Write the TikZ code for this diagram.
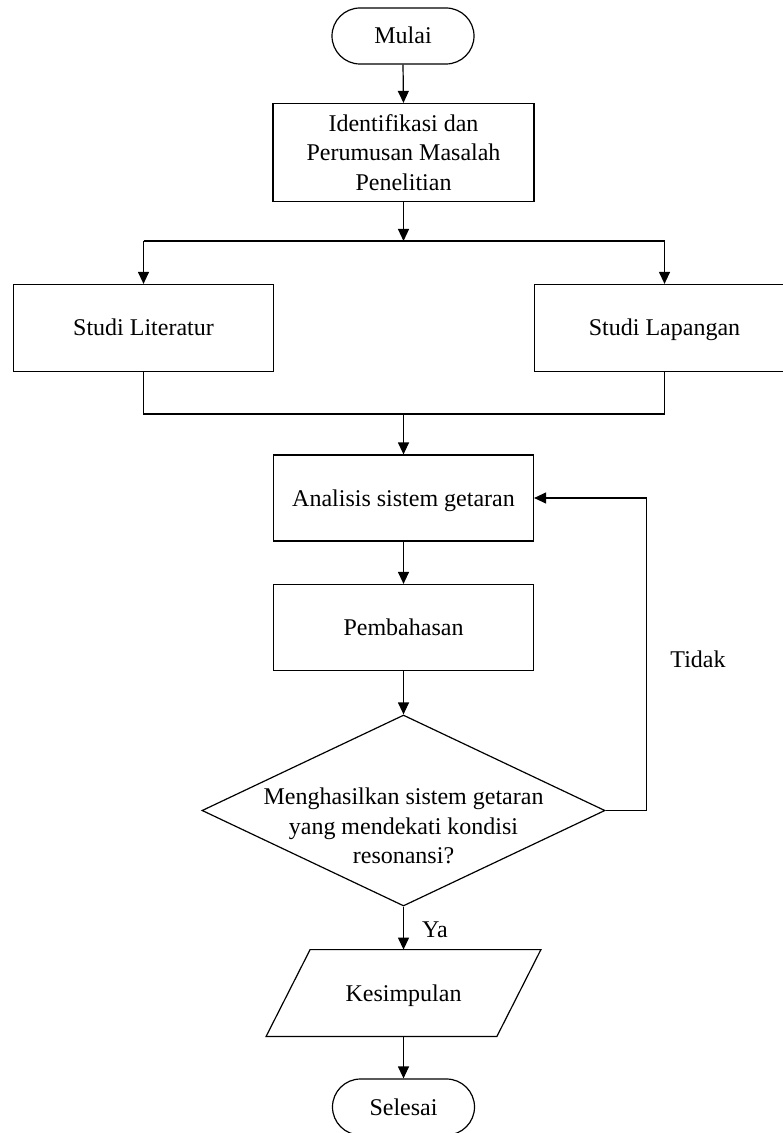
\documentclass[tikz,border=0pt]{standalone}
\usepackage{fontspec}
\setmainfont{Liberation Serif}
\usetikzlibrary{arrows.meta,shapes.geometric,calc}
\tikzset{
  every node/.style={font=\fontsize{12}{14.6}\selectfont},
  line/.style={line width=0.6pt},
  arr/.style={line width=0.6pt,-{Triangle[length=6pt,width=5.5pt]}},
  oneline/.style={text height=9.5pt,text depth=1.5pt},
  procbox/.style={draw,line width=0.6pt,rectangle,inner sep=0pt,align=center},
  termbox/.style={draw,line width=0.6pt,rectangle,rounded corners=14pt,inner sep=0pt,minimum width=71pt,minimum height=28pt,oneline},
  decbox/.style={draw,line width=0.6pt,diamond,inner sep=0pt,minimum width=201.5pt,minimum height=95.5pt},
  lbl/.style={inner sep=0pt}
}
\begin{document}
\begin{tikzpicture}[x=0.5pt,y=-0.5pt]
\useasboundingbox (0,0) rectangle (782,1133);
\node[termbox] (start) at (403,36) {Mulai};
\node[procbox,minimum width=130.5pt,minimum height=49pt] (idn) at (403.5,152.5) {Identifikasi dan\\Perumusan Masalah\\Penelitian};
\node[procbox,oneline,minimum width=130pt,minimum height=43.5pt] (lit) at (143.5,328) {Studi Literatur};
\node[procbox,oneline,minimum width=130pt,minimum height=43.5pt] (lap) at (664.5,328) {Studi Lapangan};
\node[procbox,oneline,minimum width=130pt,minimum height=43pt] (ana) at (403.5,498) {Analisis sistem getaran};
\node[procbox,oneline,minimum width=130pt,minimum height=43pt] (pem) at (403.5,627.5) {Pembahasan};
\node[decbox] (dec) at (403.5,810.5) {};
\node[lbl,align=center] (dectext) at (403.5,826) {Menghasilkan sistem getaran\\yang mendekati kondisi\\resonansi?};
\node[rectangle,oneline,inner sep=0pt,minimum width=115pt,minimum height=43pt] (kes) at (403.5,993) {Kesimpulan};
\draw[line] ($(kes.north west)+(11pt,0)$) -- ($(kes.north east)+(11pt,0)$) -- ($(kes.south east)+(-11pt,0)$) -- ($(kes.south west)+(-11pt,0)$) -- cycle;
\node[termbox] (end) at (403.5,1107) {Selesai};
\node[lbl,oneline] (tidak) at (698,659) {Tidak};
\node[lbl,oneline] (ya) at (435,929) {Ya};
\coordinate (split) at (403.5,241);
\coordinate (merge) at (403.5,414);
\draw[arr] (start.south) -- (idn.north);
\draw[arr] (idn.south) -- (split);
\draw[line] (lit.north |- split) -- (lap.north |- split);
\draw[arr] (lit.north |- split) -- (lit.north);
\draw[arr] (lap.north |- split) -- (lap.north);
\draw[line] (lit.south) -- (lit.south |- merge) -- (lap.south |- merge) -- (lap.south);
\draw[arr] (merge) -- (ana.north);
\draw[arr] (ana.south) -- (pem.north);
\draw[arr] (pem.south) -- (dec.north);
\draw[arr] (dec.south) -- (kes.north);
\draw[arr] (dec.east) -- ++(20.5pt,0) |- (ana.east);
\draw[arr] (kes.south) -- (end.north);
\end{tikzpicture}
\end{document}
